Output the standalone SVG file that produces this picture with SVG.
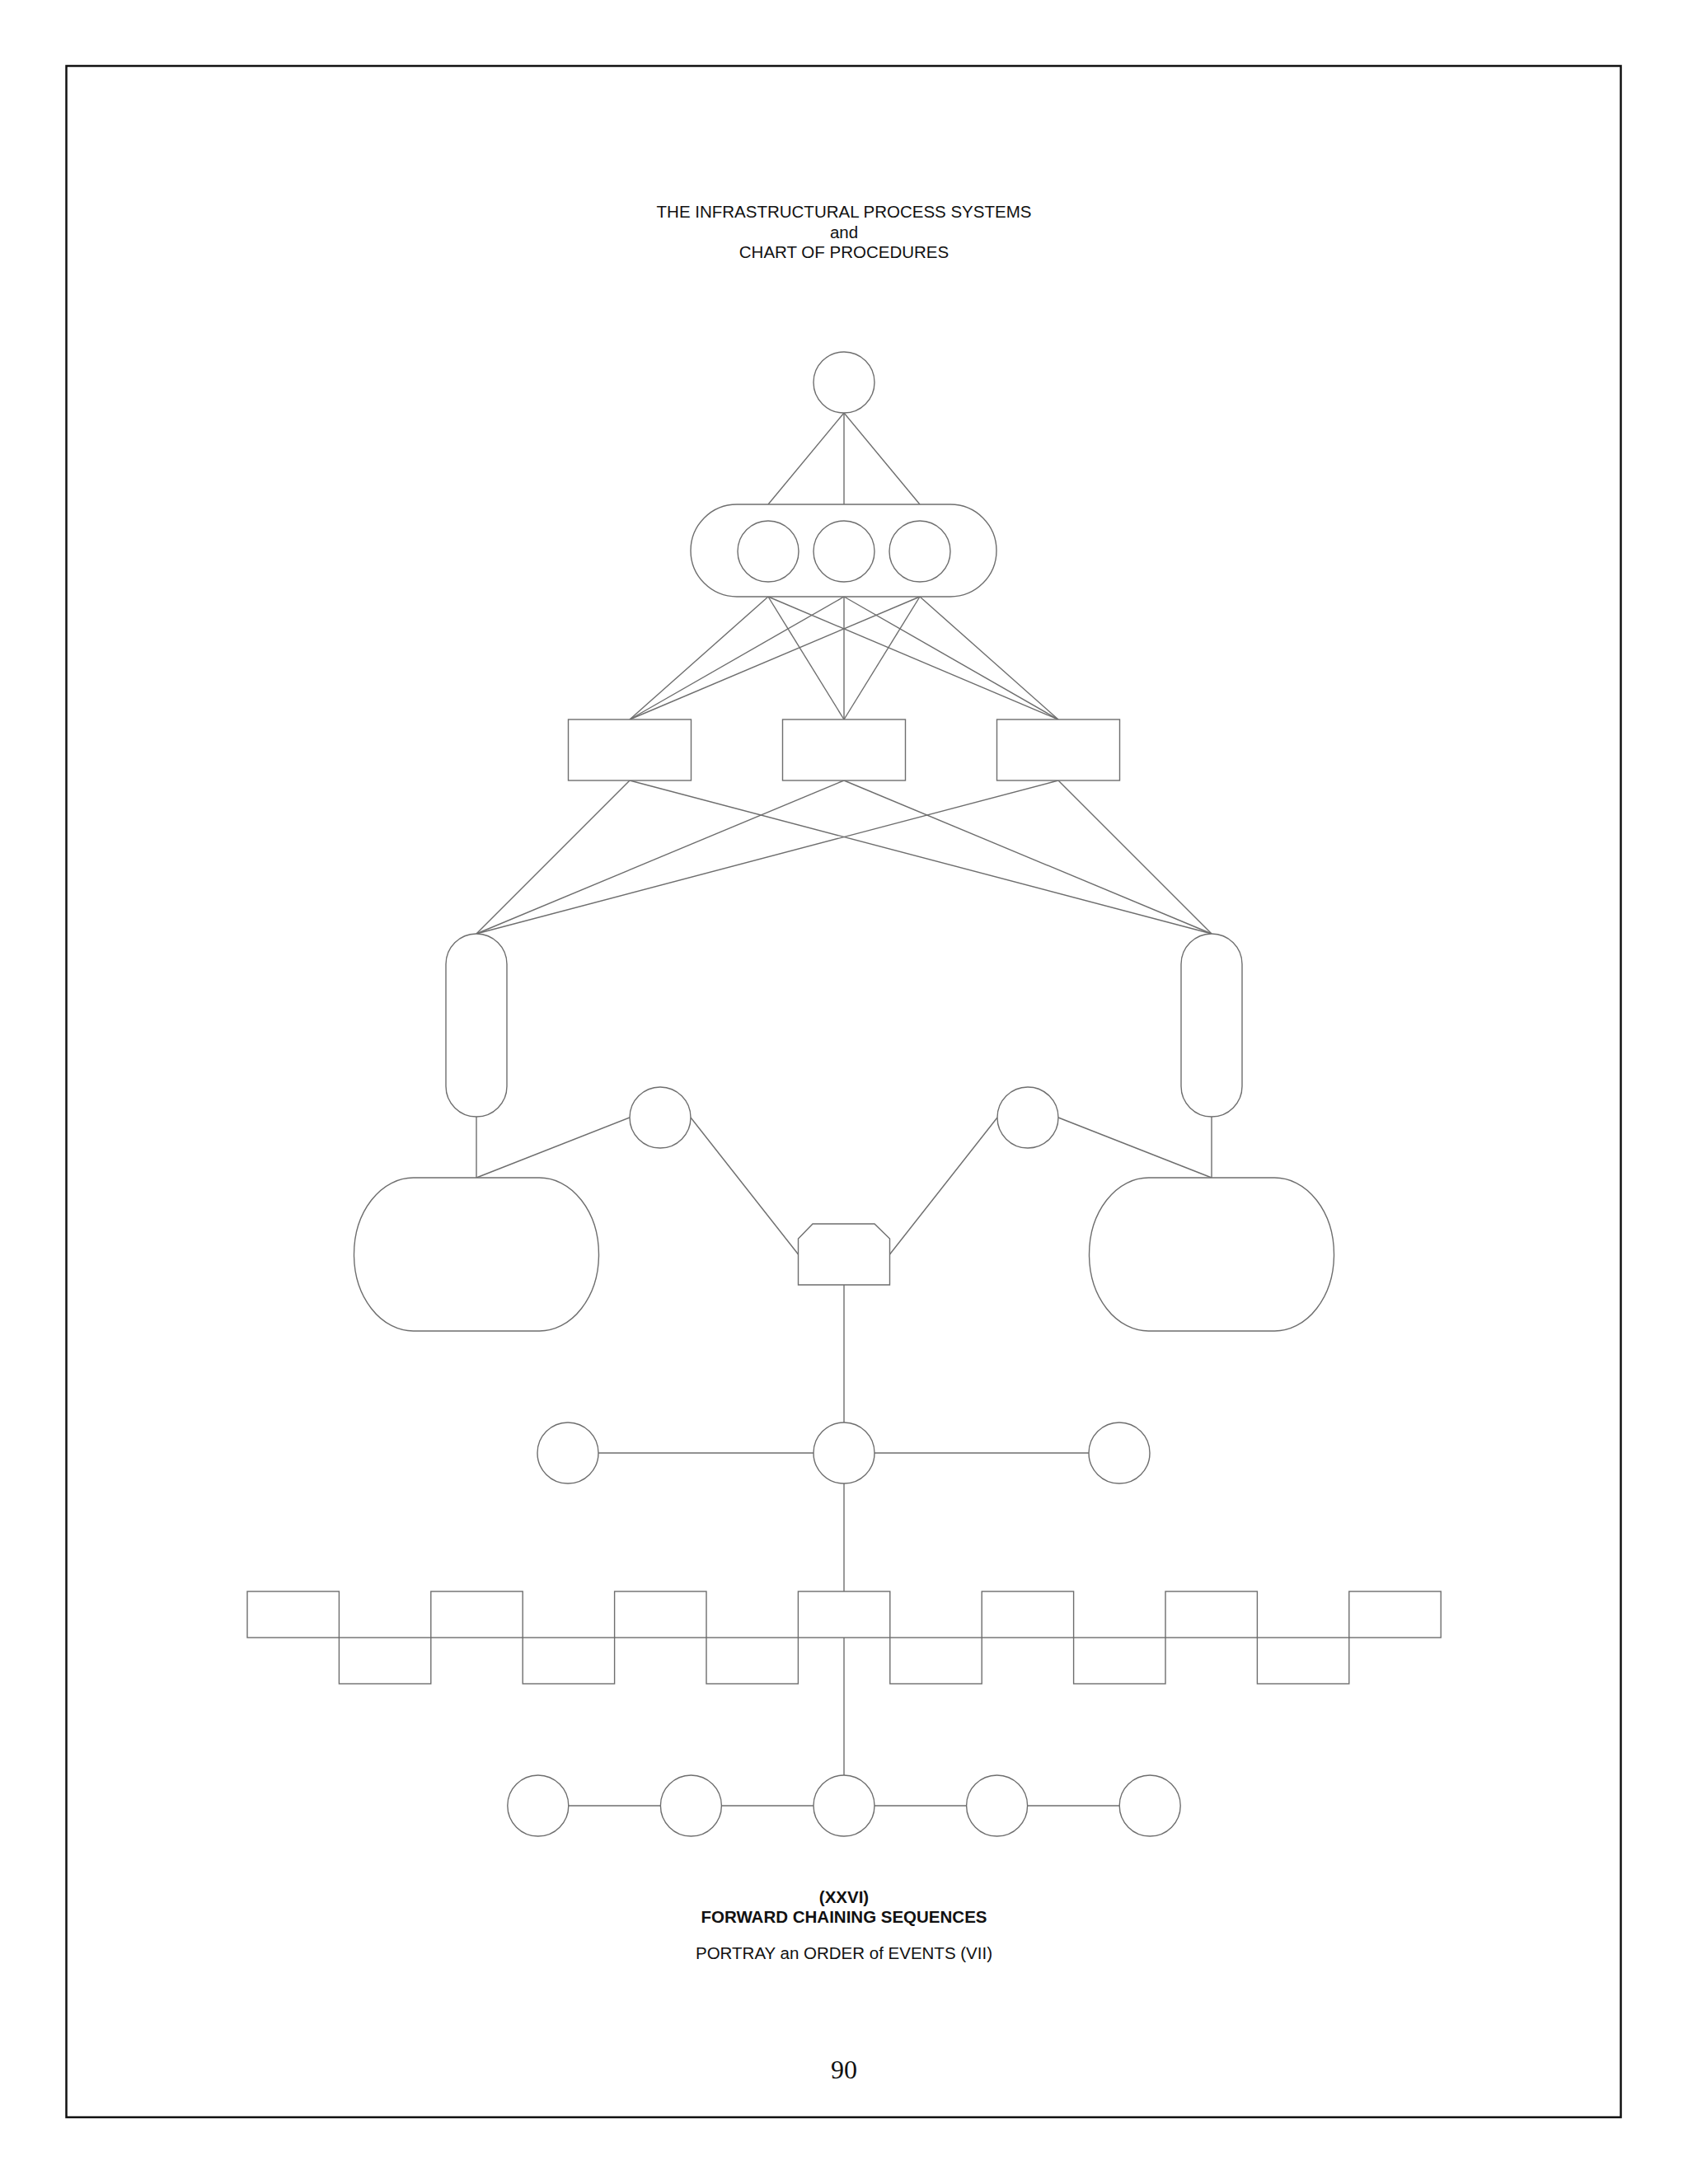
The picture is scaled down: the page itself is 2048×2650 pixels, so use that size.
<svg xmlns="http://www.w3.org/2000/svg" width="2048" height="2650" viewBox="0 0 2048 2650">
<style>
.s{fill:#fff;stroke:#6e6e6e;stroke-width:1.4}
.c line,.c polyline{stroke:#6e6e6e;stroke-width:1.4;fill:none}
.t{font-family:"Liberation Sans",Arial,sans-serif;font-size:20.5px;fill:#111;text-anchor:middle}
.b{font-weight:bold}
</style>
<rect x="0" y="0" width="2048" height="2650" fill="#fff"/>
<rect id="border" x="80.5" y="80" width="1886" height="2489" fill="none" stroke="#111" stroke-width="2.5"/>
<g id="title">
<text class="t" x="1024" y="264">THE INFRASTRUCTURAL PROCESS SYSTEMS</text>
<text class="t" x="1024" y="289">and</text>
<text class="t" x="1024" y="313">CHART OF PROCEDURES</text>
</g>
<g id="connectors" class="c">
<line x1="1024" y1="501" x2="932" y2="612"/>
<line x1="1024" y1="501" x2="1024" y2="612"/>
<line x1="1024" y1="501" x2="1116" y2="612"/>
<line x1="932" y1="724" x2="764" y2="873"/>
<line x1="932" y1="724" x2="1024" y2="873"/>
<line x1="932" y1="724" x2="1284" y2="873"/>
<line x1="1024" y1="724" x2="764" y2="873"/>
<line x1="1024" y1="724" x2="1024" y2="873"/>
<line x1="1024" y1="724" x2="1284" y2="873"/>
<line x1="1116" y1="724" x2="764" y2="873"/>
<line x1="1116" y1="724" x2="1024" y2="873"/>
<line x1="1116" y1="724" x2="1284" y2="873"/>
<line x1="764" y1="947" x2="578" y2="1133"/>
<line x1="764" y1="947" x2="1470" y2="1133"/>
<line x1="1024" y1="947" x2="578" y2="1133"/>
<line x1="1024" y1="947" x2="1470" y2="1133"/>
<line x1="1284" y1="947" x2="578" y2="1133"/>
<line x1="1284" y1="947" x2="1470" y2="1133"/>
<line x1="578" y1="1355" x2="578" y2="1429"/>
<line x1="1470" y1="1355" x2="1470" y2="1429"/>
<line x1="764" y1="1356" x2="578" y2="1429"/>
<line x1="1284" y1="1356" x2="1470" y2="1429"/>
<line x1="838" y1="1356" x2="968.5" y2="1522"/>
<line x1="1210" y1="1356" x2="1079.5" y2="1522"/>
<line x1="1024" y1="1559" x2="1024" y2="1726"/>
<line x1="726" y1="1763" x2="987" y2="1763"/>
<line x1="1061" y1="1763" x2="1321" y2="1763"/>
<line x1="1024" y1="1800" x2="1024" y2="1931"/>
<line x1="1024" y1="1987" x2="1024" y2="2154"/>
<line x1="689.8" y1="2191" x2="801.4" y2="2191"/>
<line x1="875.4" y1="2191" x2="987" y2="2191"/>
<line x1="1061" y1="2191" x2="1172.6" y2="2191"/>
<line x1="1246.6" y1="2191" x2="1358.2" y2="2191"/>
</g>
<g id="n-top"><circle class="s" cx="1024" cy="464" r="37"/></g>
<g id="n-capsule">
<rect class="s" x="838" y="612" width="371" height="112" rx="56" ry="56"/>
<circle class="s" cx="932" cy="669" r="37"/>
<circle class="s" cx="1024" cy="669" r="37"/>
<circle class="s" cx="1116" cy="669" r="37"/>
</g>
<g id="n-rect1"><rect class="s" x="689.5" y="873" width="149" height="74"/></g>
<g id="n-rect2"><rect class="s" x="949.5" y="873" width="149" height="74"/></g>
<g id="n-rect3"><rect class="s" x="1209.5" y="873" width="149" height="74"/></g>
<g id="n-pillL"><rect class="s" x="541" y="1133" width="74" height="222" rx="37" ry="37"/></g>
<g id="n-pillR"><rect class="s" x="1433" y="1133" width="74" height="222" rx="37" ry="37"/></g>
<g id="n-smallL"><circle class="s" cx="801" cy="1356" r="37"/></g>
<g id="n-smallR"><circle class="s" cx="1247" cy="1356" r="37"/></g>
<g id="n-bigL"><rect class="s" x="429.5" y="1429" width="297" height="186" rx="72" ry="93"/></g>
<g id="n-bigR"><rect class="s" x="1321.5" y="1429" width="297" height="186" rx="72" ry="93"/></g>
<g id="n-pent"><polygon class="s" points="986,1485 1061,1485 1079.5,1503 1079.5,1559 968.5,1559 968.5,1503"/></g>
<g id="n-row1">
<circle class="s" cx="689" cy="1763" r="37"/>
<circle class="s" cx="1024" cy="1763" r="37"/>
<circle class="s" cx="1358" cy="1763" r="37"/>
</g>
<g id="n-wave">
<rect class="s" x="300" y="1931" width="111.4" height="56"/>
<rect class="s" x="522.8" y="1931" width="111.4" height="56"/>
<rect class="s" x="745.6" y="1931" width="111.4" height="56"/>
<rect class="s" x="968.4" y="1931" width="111.4" height="56"/>
<rect class="s" x="1191.2" y="1931" width="111.4" height="56"/>
<rect class="s" x="1414" y="1931" width="111.4" height="56"/>
<rect class="s" x="1636.8" y="1931" width="111.4" height="56"/>
<rect class="s" x="411.4" y="1987" width="111.4" height="56"/>
<rect class="s" x="634.2" y="1987" width="111.4" height="56"/>
<rect class="s" x="857" y="1987" width="111.4" height="56"/>
<rect class="s" x="1079.8" y="1987" width="111.4" height="56"/>
<rect class="s" x="1302.6" y="1987" width="111.4" height="56"/>
<rect class="s" x="1525.4" y="1987" width="111.4" height="56"/>
</g>
<g id="n-row2">
<circle class="s" cx="652.8" cy="2191" r="37"/>
<circle class="s" cx="838.4" cy="2191" r="37"/>
<circle class="s" cx="1024" cy="2191" r="37"/>
<circle class="s" cx="1209.6" cy="2191" r="37"/>
<circle class="s" cx="1395.2" cy="2191" r="37"/>
</g>
<g id="caption">
<text class="t b" x="1024" y="2309">(XXVI)</text>
<text class="t b" x="1024" y="2333">FORWARD CHAINING SEQUENCES</text>
<text class="t" x="1024" y="2377">PORTRAY an ORDER of EVENTS (VII)</text>
</g>
<g id="page"><text x="1024" y="2522" font-family="'Liberation Serif','Times New Roman',serif" font-size="32" fill="#111" text-anchor="middle">90</text></g>
</svg>
